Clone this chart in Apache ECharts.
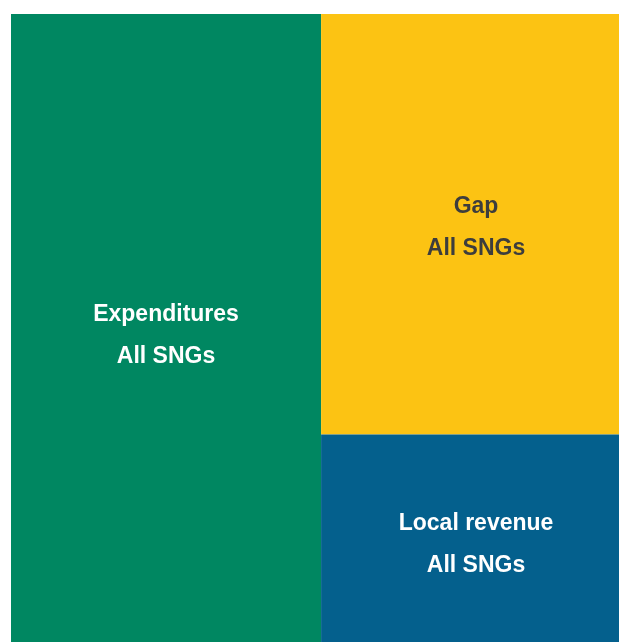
<!DOCTYPE html>
<html>
<head>
<meta charset="utf-8">
<script src="https://cdn.jsdelivr.net/npm/echarts@6/dist/echarts.min.js"></script>
<style>
html,body{margin:0;padding:0;background:#fff;}
#chart{width:619px;height:642px;}
</style>
</head>
<body>
<div id="chart"></div>
<script>
const names = ["Expenditures", "Gap", "Local revenue"];
const subLabel = "All SNGs";
const values = [51.0, 32.8, 16.2];

// styling (kept separate from data)
const colors = ["#008761", "#FCC313", "#04608D"];
const textColors = ["#ffffff", "#3d3d3d", "#ffffff"];
const labelOffsets = [[0, 8], [6, 3], [6, 6]];

function leaf(i) {
  return {
    name: names[i],
    value: values[i],
    itemStyle: { color: colors[i] },
    label: { color: textColors[i], offset: labelOffsets[i] }
  };
}

const data = [
  leaf(0),
  {
    name: "",
    value: values[1] + values[2],
    itemStyle: { color: colors[1], borderWidth: 0, gapWidth: 0 },
    children: [leaf(1), leaf(2)]
  }
];

const chart = echarts.init(document.getElementById('chart'));
chart.setOption({
  animation: false,
  series: [{
    type: 'treemap',
    left: 11, top: 14, right: 0, bottom: 0,
    roam: false,
    nodeClick: false,
    breadcrumb: { show: false },
    sort: 'desc',
    upperLabel: { show: false },
    levels: [
      { itemStyle: { borderWidth: 0, gapWidth: 0 } },
      { itemStyle: { borderWidth: 0, gapWidth: 0 } },
      { itemStyle: { borderWidth: 0, gapWidth: 0 } }
    ],
    label: {
      show: true,
      position: 'inside',
      align: 'center',
      verticalAlign: 'middle',
      fontFamily: 'Liberation Sans, Arial, sans-serif',
      fontWeight: 'bold',
      fontSize: 23,
      lineHeight: 42,
      formatter: p => p.name ? p.name + '\n' + subLabel : ''
    },
    data: data
  }]
});
</script>
</body>
</html>
